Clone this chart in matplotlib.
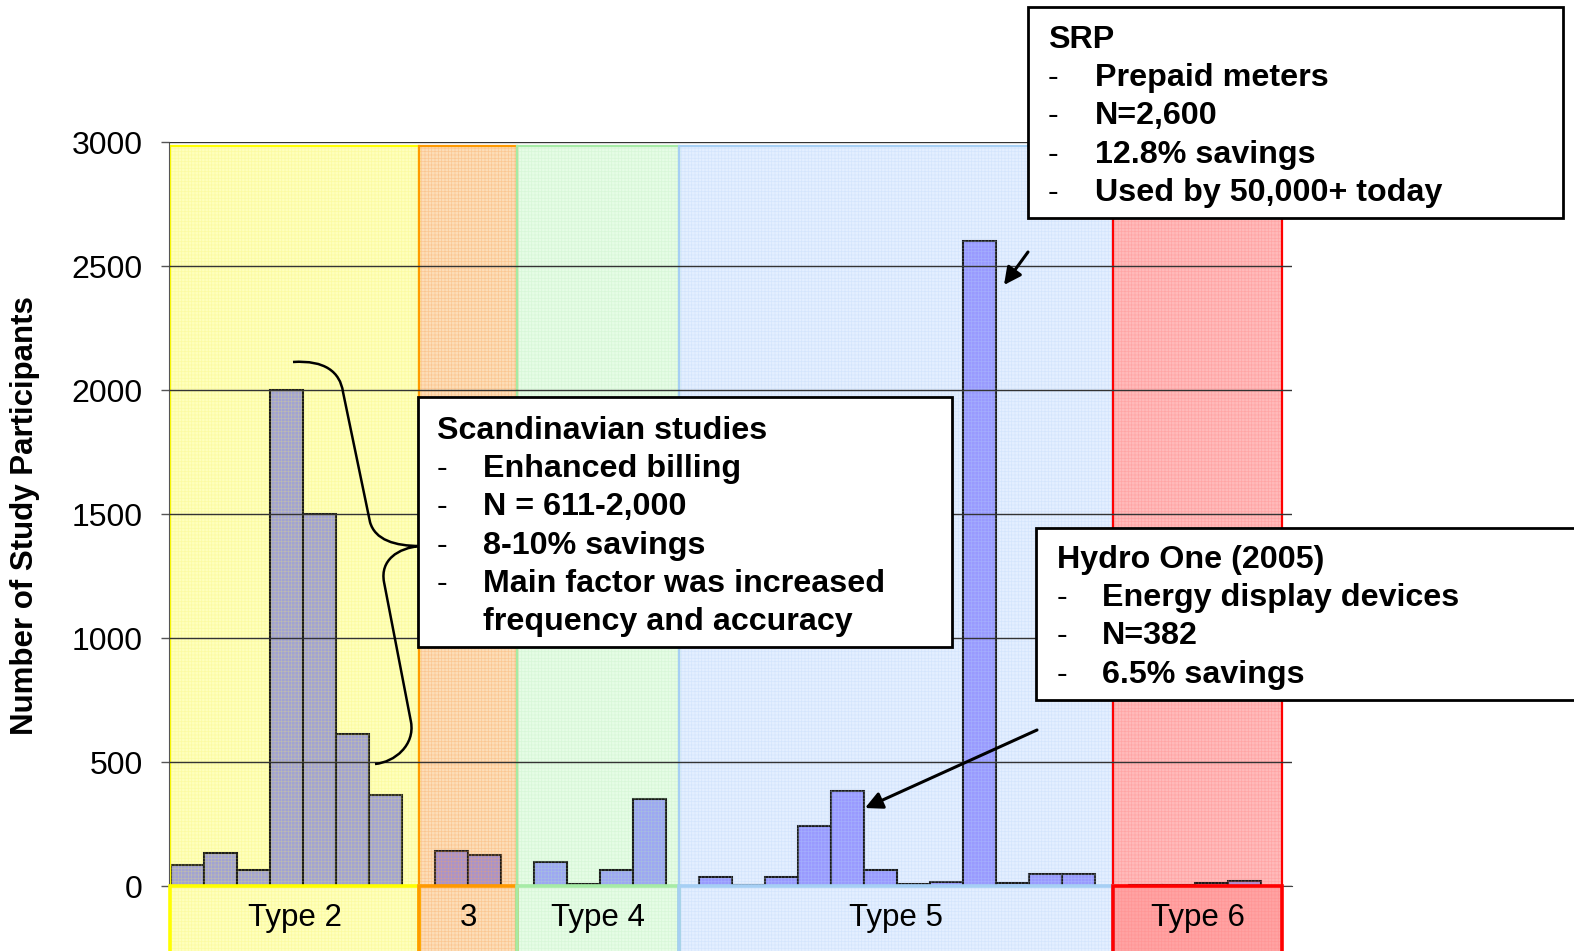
import matplotlib
matplotlib.use('Agg')
import matplotlib.pyplot as plt
from matplotlib.patches import Rectangle, PathPatch, FancyArrowPatch
from matplotlib.path import Path
from matplotlib.transforms import Affine2D

plt.rcParams['font.family'] = ['Liberation Sans', 'DejaVu Sans']
plt.rcParams['hatch.linewidth'] = 0.5

# ---------------- data ----------------
type_labels = ['Type 2', '3', 'Type 4', 'Type 5', 'Type 6']
type2_values = [85, 135, 65, 2000, 1500, 611, 365]
type3_values = [140, 125]
type4_values = [95, 10, 65, 350]
type5_values = [38, 5, 38, 240, 382, 65, 10, 18, 2600, 12, 48, 48]
type6_values = [3, 3, 12, 20]
y_ticks = [0, 500, 1000, 1500, 2000, 2500, 3000]
y_label = 'Number of Study Participants'

box_scandinavian = ['Scandinavian studies', 'Enhanced billing', 'N = 611-2,000',
                    '8-10% savings', 'Main factor was increased', 'frequency and accuracy']
box_srp = ['SRP', 'Prepaid meters', 'N=2,600', '12.8% savings', 'Used by 50,000+ today']
box_hydro = ['Hydro One (2005)', 'Energy display devices', 'N=382', '6.5% savings']

groups = [type2_values, type3_values, type4_values, type5_values, type6_values]

# ---------------- styles / layout ----------------
W, H = 1574, 951
bar_colors = ['#A2A2D4', '#A993CC', '#9DA6F4', '#9999FF', '#B08FD6']
fill_colors = ['#FFFFBC', '#FDDDB8', '#E6FCE6', '#E4EFFF', '#FFBABA']
hatch_colors = [(0.95, 0.95, 0.40, 0.30), (0.97, 0.66, 0.35, 0.40), (0.72, 0.93, 0.72, 0.30),
                (0.72, 0.83, 0.97, 0.35), (1.0, 0.50, 0.50, 0.35)]
border_colors = ['#FFFF00', '#FF9900', '#A6EBA6', '#A6CFF4', '#FF0000']
region_bounds = [(-0.52, 7.02), (7.02, 10.0), (10.0, 14.89), (14.89, 28.03), (28.03, 33.15)]
region_top = 2985
label_bottom = -320
label_center = -128

fig = plt.figure(figsize=(W / 100, H / 100), dpi=100)
ax = fig.add_axes([169 / W, (H - 886) / H, 1123 / W, 744 / H])
ax.set_xlim(-0.55, 33.45)
ax.set_ylim(0, 3000)

# regions
for i, (x0, x1) in enumerate(region_bounds):
    ax.add_patch(Rectangle((x0, 0), x1 - x0, region_top, facecolor=fill_colors[i],
                           edgecolor='none', zorder=0.2))
    ax.add_patch(Rectangle((x0, 0), x1 - x0, region_top, fill=False, hatch='+++++',
                           edgecolor=hatch_colors[i], lw=0, zorder=1.2))
    ax.add_patch(Rectangle((x0, 0), x1 - x0, region_top, fill=False,
                           edgecolor=border_colors[i], lw=1.6, zorder=1.4))
    # label band below axis
    lab_fill = fill_colors[i] if i != 4 else '#FFA3A3'
    ax.add_patch(Rectangle((x0, label_bottom), x1 - x0, -label_bottom, facecolor=lab_fill,
                           edgecolor='none', zorder=3, clip_on=False))
    ax.add_patch(Rectangle((x0, label_bottom), x1 - x0, -label_bottom, fill=False,
                           hatch='+++++', edgecolor=hatch_colors[i], lw=0, zorder=3.1, clip_on=False))
    ax.add_patch(Rectangle((x0, label_bottom), x1 - x0, -label_bottom, fill=False,
                           edgecolor=border_colors[i], lw=2.6, zorder=3.2, clip_on=False))
    ax.text((x0 + x1) / 2, label_center, type_labels[i], ha='center', va='center',
            fontsize=22.5, zorder=4, clip_on=False)

# bars
start = 0
for i, vals in enumerate(groups):
    xs = [start + k for k in range(len(vals))]
    ax.bar(xs, vals, width=1.0, color=bar_colors[i], edgecolor='#1A1A1A', linewidth=1.5, zorder=1)
    start += len(vals) + 1

# axes styling
ax.set_axisbelow(False)
ax.yaxis.grid(True, color='#333333', lw=1.0)
ax.xaxis.grid(False)
ax.set_yticks(y_ticks)
ax.set_yticklabels([str(v) for v in y_ticks], fontsize=23)
ax.tick_params(axis='y', length=6, width=1, color='#555555', pad=13)
ax.tick_params(axis='x', bottom=False, labelbottom=False)
for s in ['top', 'right']:
    ax.spines[s].set_visible(False)
ax.spines['left'].set_color('#555555')
ax.spines['bottom'].set_color('#444444')

fig.text(25 / W, 1 - 516 / H, y_label, rotation=90, ha='center', va='center',
         fontsize=22.5, fontweight='bold')

# pixel transform (origin top-left)
T = Affine2D().scale(1 / W, -1 / H).translate(0, 1) + fig.transFigure


def draw_box(x0, y0, x1, y1, lines, tx, indent, base0, step, skip_dash=()):
    fig.add_artist(Rectangle((x0, y0), x1 - x0, y1 - y0, transform=T, facecolor='white',
                             edgecolor='black', lw=2.0, zorder=5, clip_on=False))
    for k, s in enumerate(lines):
        y = base0 + k * step
        if k == 0:
            fig.text(tx / W, 1 - y / H, s, fontsize=23.2, fontweight='bold', va='baseline', zorder=6)
        else:
            if k not in skip_dash:
                fig.text(tx / W, 1 - y / H, '-', fontsize=23.2, va='baseline', zorder=6)
            fig.text(indent / W, 1 - y / H, s, fontsize=23.2, fontweight='bold', va='baseline', zorder=6)


draw_box(418, 397, 952, 647, box_scandinavian, 437, 483, 439, 38.2, skip_dash=(5,))
draw_box(1028, 7, 1563, 218, box_srp, 1048, 1095, 48, 38.2)
draw_box(1036, 528, 1600, 700, box_hydro, 1057, 1102, 568, 38.2)

# brace
verts = [(293, 362), (325, 360), (340, 372), (343, 392),
         (370, 522),
         (375, 540), (395, 546), (420, 546),
         (398, 548), (380, 560), (384, 582),
         (411, 722),
         (415, 745), (395, 762), (375, 764)]
codes = [Path.MOVETO, Path.CURVE4, Path.CURVE4, Path.CURVE4,
         Path.LINETO,
         Path.CURVE4, Path.CURVE4, Path.CURVE4,
         Path.CURVE4, Path.CURVE4, Path.CURVE4,
         Path.LINETO,
         Path.CURVE4, Path.CURVE4, Path.CURVE4]
fig.add_artist(PathPatch(Path(verts, codes), transform=T, fill=False, edgecolor='black',
                         lw=1.8, zorder=4))

# arrows
for (xa, ya), (xb, yb) in [((1028, 252), (1004, 285)), ((1037, 730), (865, 808))]:
    fig.add_artist(FancyArrowPatch((xa, ya), (xb, yb), transform=T, arrowstyle='-|>',
                                   mutation_scale=26, lw=2.2, color='black', zorder=6,
                                   shrinkA=0, shrinkB=0))

fig.savefig('out.png', dpi=100)
